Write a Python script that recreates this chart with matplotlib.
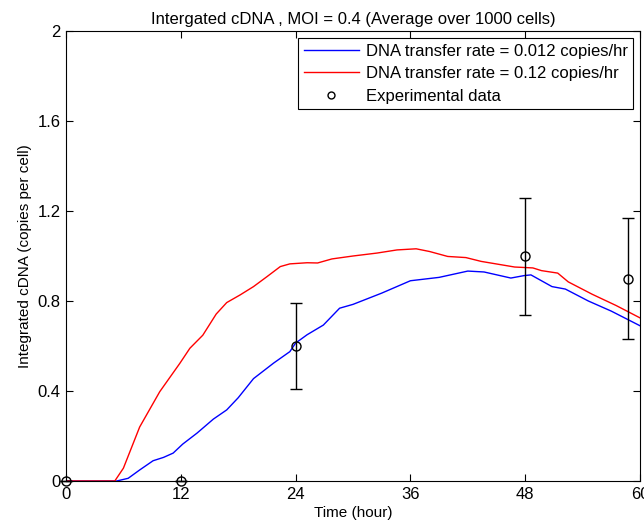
import matplotlib
matplotlib.use("Agg")
import matplotlib.pyplot as plt
from matplotlib.lines import Line2D

plt.rcParams['font.family'] = ['Liberation Sans', 'DejaVu Sans']

# Model curve: DNA transfer rate = 0.012 copies/hr (blue)
t_blue = [0, 5.3, 6.5, 7.7, 9.1, 10.2, 11.2, 12.2, 13.7, 15.4, 16.8, 18.0, 19.6, 21.7, 23.4, 24.0,
          25.2, 26.9, 28.6, 30, 33, 36, 39, 42, 43.7, 46.5, 47.9, 48.6, 50.8, 52.2, 54.6, 57, 60]
y_blue = [0, 0, 0.012, 0.049, 0.09, 0.105, 0.124, 0.164, 0.213, 0.275, 0.316, 0.37, 0.455, 0.524, 0.575, 0.613,
          0.650, 0.693, 0.768, 0.785, 0.835, 0.89, 0.905, 0.933, 0.929, 0.902, 0.913, 0.916, 0.864, 0.853, 0.80, 0.755, 0.69]

# Model curve: DNA transfer rate = 0.12 copies/hr (red)
t_red = [0, 5.1, 6.0, 7.7, 9.8, 11.9, 12.95, 14.3, 15.7, 16.8, 18.2, 19.6, 21.0, 22.4, 23.4, 25.2, 26.3,
         27.8, 30, 32.5, 34.6, 36.6, 38, 39.9, 41.8, 43.4, 46.9, 48.8, 49.7, 51.4, 52.5, 55, 57.5, 60]
y_red = [0, 0, 0.057, 0.24, 0.397, 0.523, 0.59, 0.648, 0.742, 0.793, 0.827, 0.864, 0.908, 0.953, 0.965, 0.97, 0.969,
         0.987, 1.0, 1.013, 1.027, 1.032, 1.02, 0.998, 0.993, 0.976, 0.951, 0.947, 0.935, 0.924, 0.885, 0.83, 0.78, 0.725]

# Experimental data
t_exp = [0, 12, 24, 48, 58.7]
y_exp = [0, 0, 0.6, 1.0, 0.9]
e_exp = [0, 0, 0.19, 0.26, 0.27]

x_ticks = [0, 12, 24, 36, 48, 60]
y_ticks = [0, 0.4, 0.8, 1.2, 1.6, 2]
y_tick_labels = ['0', '0.4', '0.8', '1.2', '1.6', '2']

fig = plt.figure(figsize=(6.44, 5.31), dpi=100)
ax = fig.add_axes([66/644, 50/531, (640-66)/644, 450/531])

l1, = ax.plot(t_blue, y_blue, color='#0000ff', lw=1.0, label='DNA transfer rate = 0.012 copies/hr')
l2, = ax.plot(t_red, y_red, color='#ff0000', lw=1.0, label='DNA transfer rate = 0.12 copies/hr')
ax.errorbar(t_exp, y_exp, yerr=e_exp, fmt='o', mfc='none', mec='black', ms=6.5, mew=1.0,
            ecolor='black', elinewidth=1.0, capsize=4, capthick=1.0, color='black',
            clip_on=False)
h3 = Line2D([], [], ls='none', marker='o', mfc='none', mec='black', ms=5, mew=1.0,
            label='Experimental data')

ax.set_xlim(0, 60)
ax.set_ylim(0, 2)
ax.set_xticks(x_ticks)
ax.set_yticks(y_ticks)
ax.set_yticklabels(y_tick_labels)
ax.tick_params(direction='in', top=True, right=True, length=5, width=0.8, labelsize=12,
               colors='black', pad=4)
for s in ax.spines.values():
    s.set_linewidth(0.8)

ax.set_title('Intergated cDNA , MOI = 0.4 (Average over 1000 cells)', fontsize=12, pad=5)
ax.set_xlabel('Time (hour)', fontsize=11, labelpad=3)
ax.set_ylabel('Integrated cDNA (copies per cell)', fontsize=11, labelpad=4)

leg = ax.legend([l1, l2, h3], [l1.get_label(), l2.get_label(), h3.get_label()],
                loc='upper right', fontsize=12, fancybox=False, framealpha=1,
                edgecolor='black', borderaxespad=0.4, handlelength=3.3, handletextpad=0.4,
                borderpad=0.35, labelspacing=0.45)
leg.get_frame().set_linewidth(0.8)

fig.savefig('out.png', dpi=100)
